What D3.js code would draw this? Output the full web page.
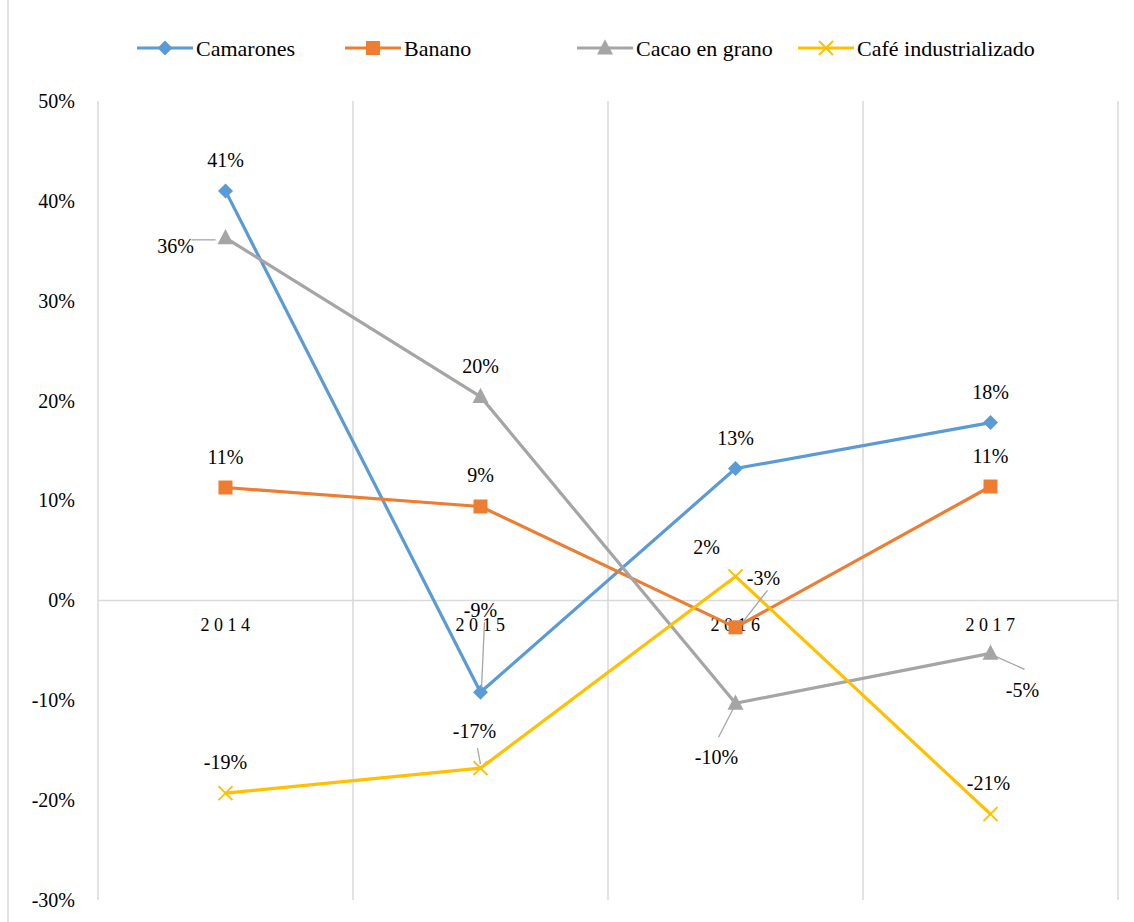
<!DOCTYPE html>
<html><head><meta charset="utf-8">
<script src="https://cdnjs.cloudflare.com/ajax/libs/d3/7.8.5/d3.min.js"></script>
<style>body{margin:0;background:#fff}svg{display:block}</style>
</head><body>
<script>
const categories = ["2014","2015","2016","2017"];
const yTicks = [-0.3,-0.2,-0.1,0,0.1,0.2,0.3,0.4,0.5];
const seriesNames = ["Camarones","Banano","Cacao en grano","Café industrializado"];
const camarones = [0.410,-0.092,0.132,0.178];
const banano = [0.113,0.094,-0.027,0.114];
const cacao = [0.363,0.204,-0.103,-0.053];
const cafe = [-0.193,-0.168,0.024,-0.214];
const colors = ["#5B9BD5","#ED7D31","#A5A5A5","#FFC000"];
const symbols = ["diamond","square","triangle","cross"];
const FONT = "Liberation Serif";

// label layout: [dx, dy, leader?]
const labelLayout = [
  [[0,-31],[0,-82,[1,-4,4,-70]],[0,-31],[0,-31]],
  [[0,-31],[0,-31],[28,-49,[7,-5,32,-37]],[0,-31]],
  [[-50,8,[-10,2,-34,2]],[0,-31],[-19,54,[-2,5,-17,34]],[32,37,[5,3,34,16]]],
  [[0,-31],[-6,-37,[0,-4,-3,-20]],[-29,-29],[-2,-31]]
];

const W=1134,H=922;
const svg=d3.select("body").append("svg").attr("width",W).attr("height",H).attr("font-family",FONT);
const x=d3.scaleBand().domain(categories).range([98,1118]);
const y=d3.scaleLinear().domain([-0.3,0.5]).range([900,101]);

svg.append("line").attr("x1",8).attr("x2",8).attr("y1",0).attr("y2",H).attr("stroke","#D9D9D9").attr("stroke-width",1.5);

const bounds = categories.map(c=>x(c)).concat([x.range()[1]]);
svg.selectAll(".vg").data(bounds).enter().append("line")
  .attr("x1",d=>d).attr("x2",d=>d).attr("y1",y(0.5)).attr("y2",y(-0.3))
  .attr("stroke","#D9D9D9").attr("stroke-width",1.5);
svg.append("line").attr("x1",x.range()[0]).attr("x2",x.range()[1]).attr("y1",y(0)).attr("y2",y(0))
  .attr("stroke","#D9D9D9").attr("stroke-width",1.5);

const yAxis=d3.axisLeft(y).tickValues(yTicks).tickFormat(d=>Math.round(d*100)+"%").tickSize(0).tickPadding(0);
const ga=svg.append("g").attr("transform","translate(75,0)").call(yAxis);
ga.attr("font-family",FONT).attr("font-size",20);
ga.select(".domain").remove();
ga.selectAll("text").attr("font-family",FONT).attr("font-size",20).attr("fill","#000");

const xAxis=d3.axisBottom(x).tickSize(0).tickPadding(0).tickFormat(d=>d);
const gx=svg.append("g").attr("transform",`translate(2,${y(0)+18})`).call(xAxis);
gx.attr("font-family",FONT).attr("font-size",18);
gx.select(".domain").remove();
gx.selectAll("text").attr("font-family",FONT).attr("font-size",18).attr("letter-spacing","4.5px").attr("fill","#000");

const allSeries=[camarones,banano,cacao,cafe];
const line=d3.line().x((d,i)=>x(categories[i])+x.bandwidth()/2).y(d=>y(d));

function drawMarker(g,type,color,cx,cy){
  if(type==="diamond"){
    const s=7.5;
    g.append("path").attr("d",`M${cx},${cy-s}L${cx+s},${cy}L${cx},${cy+s}L${cx-s},${cy}Z`).attr("fill",color);
  } else if(type==="square"){
    const s=14;
    g.append("rect").attr("x",cx-s/2).attr("y",cy-s/2).attr("width",s).attr("height",s).attr("fill",color);
  } else if(type==="triangle"){
    const s=8;
    g.append("path").attr("d",`M${cx},${cy-s*1.1}L${cx+s},${cy+s*0.8}L${cx-s},${cy+s*0.8}Z`).attr("fill",color);
  } else {
    const s=7;
    g.append("path").attr("d",`M${cx-s},${cy-s}L${cx+s},${cy+s}M${cx-s},${cy+s}L${cx+s},${cy-s}`).attr("stroke",color).attr("stroke-width",2).attr("fill","none");
  }
}

allSeries.forEach((vals,si)=>{
  const g=svg.append("g");
  g.append("path").datum(vals).attr("d",line).attr("fill","none").attr("stroke",colors[si]).attr("stroke-width",3.2).attr("stroke-linejoin","round");
  vals.forEach((v,i)=>drawMarker(g,symbols[si],colors[si],x(categories[i])+x.bandwidth()/2,y(v)));
});

allSeries.forEach((vals,si)=>{
  vals.forEach((v,i)=>{
    const cx=x(categories[i])+x.bandwidth()/2, cy=y(v);
    const L=labelLayout[si][i];
    if(L[2]){
      const l=L[2];
      svg.append("line").attr("x1",cx+l[0]).attr("y1",cy+l[1]).attr("x2",cx+l[2]).attr("y2",cy+l[3]).attr("stroke","#A5A5A5").attr("stroke-width",1.3);
    }
    svg.append("text").attr("x",cx+L[0]).attr("y",cy+L[1]).attr("text-anchor","middle").attr("dominant-baseline","central")
      .attr("font-size",20).attr("font-family",FONT).attr("fill","#000").text(Math.round(v*100)+"%");
  });
});

const legendX=[137,345,577,798];
seriesNames.forEach((n,i)=>{
  const g=svg.append("g");
  const lx=legendX[i], ly=48;
  g.append("line").attr("x1",lx).attr("x2",lx+56).attr("y1",ly).attr("y2",ly).attr("stroke",colors[i]).attr("stroke-width",3.2);
  drawMarker(g,symbols[i],colors[i],lx+28,ly);
  g.append("text").attr("x",lx+59).attr("y",ly).attr("dominant-baseline","central").attr("font-size",22).attr("font-family",FONT).attr("fill","#000").text(n);
});
</script>
</body></html>
